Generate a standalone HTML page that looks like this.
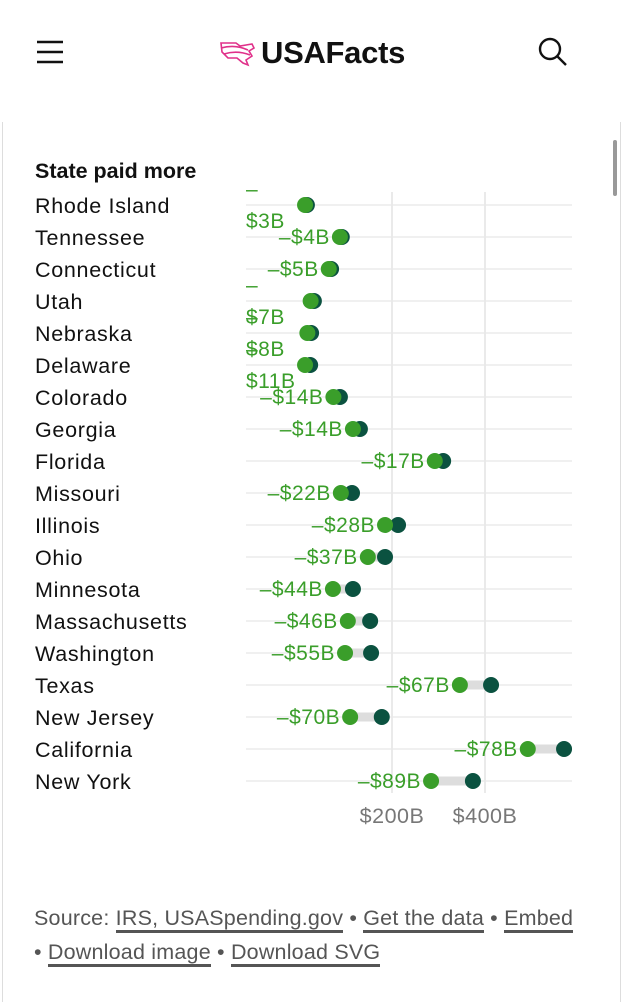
<!DOCTYPE html>
<html><head><meta charset="utf-8">
<style>
html,body{margin:0;padding:0;background:#fff;width:623px;height:1000px;overflow:hidden;font-family:"Liberation Sans",sans-serif;}
.hdr{position:absolute;left:0;top:0;width:623px;height:110px;}
.frame{position:absolute;left:2px;top:122px;width:617px;height:880px;border-left:1px solid #ddd;border-right:1px solid #ddd;}
.sb{position:absolute;left:613px;top:140px;width:4px;height:56px;background:#999;border-radius:2px;}
.foot{position:absolute;left:34px;top:901px;width:585px;font-size:21.5px;line-height:34px;color:#555;letter-spacing:0.2px;}
.foot a{color:#555;text-decoration:none;border-bottom:3px solid #555;}
</style></head><body>
<div class="hdr">
 <svg width="623" height="110">
  <g stroke="#111" stroke-width="2.4">
   <line x1="37" y1="42" x2="63" y2="42"/><line x1="37" y1="52" x2="63" y2="52"/><line x1="37" y1="62" x2="63" y2="62"/>
  </g>
  <g fill="none" stroke="#e0318a" stroke-width="1.6">
   <path d="M221 43 L236 43 L240 46 L252 44 L254 48 L249 51 L252 56 L246 60 L248 65 L243 63 L237 58 L228 58 L222 52 Z"/>
   <path d="M221 48 Q235 44 248 50"/><path d="M224 54 Q237 50 250 55"/>
  </g>
  <text x="261" y="63" font-size="31" font-weight="bold" fill="#111" font-family="Liberation Sans, sans-serif" letter-spacing="-0.3">USAFacts</text>
  <g fill="none" stroke="#111" stroke-width="2.4">
   <circle cx="550" cy="49" r="10"/><line x1="557" y1="56" x2="566" y2="65"/>
  </g>
 </svg>
</div>
<div class="frame"></div>
<div class="sb"></div>
<svg id="chart" width="623" height="1000" style="position:absolute;left:0;top:0"></svg>
<div class="foot">Source: <a href="#">IRS, USASpending.gov</a> • <a href="#">Get the data</a> • <a href="#">Embed</a><br>• <a href="#">Download image</a> • <a href="#">Download SVG</a></div>
<script>
const states=["Rhode Island","Tennessee","Connecticut","Utah","Nebraska","Delaware","Colorado","Georgia","Florida","Missouri","Illinois","Ohio","Minnesota","Massachusetts","Washington","Texas","New Jersey","California","New York"];
const federalValues=[17,92,69,32,26,24,88,131,310,114,213,185,116,153,155,413,178,570,374];
const gapValues=[3,4,5,7,8,11,14,14,17,22,28,37,44,46,55,67,70,78,89];
const adjustedValues=[13,88,64,25,18,13,74,116,292,90,185,148,73,105,99,346,110,492,284];
const tickValues=[200,400];
const tickLabels=["$200B","$400B"];
const svg=document.getElementById('chart');
const NS="http://www.w3.org/2000/svg";
const x=v=>299+v*0.465;
const y=i=>205+i*32;
function mk(t,a){const e=document.createElementNS(NS,t);for(const k in a)e.setAttribute(k,a[k]);svg.appendChild(e);return e;}
let t=mk('text',{x:35,y:178,'font-size':21.5,'font-weight':'bold',fill:'#111'});t.textContent="State paid more";


tickValues.forEach((v,i)=>{
 const l=mk('line',{x1:x(v),x2:x(v),y1:192,y2:793,stroke:'#ddd','stroke-width':1.2});
 
 
 const tx=mk('text',{x:x(v),y:823,'font-size':21.5,fill:'#777','text-anchor':'middle','letter-spacing':0.5});tx.textContent=tickLabels[i];
 
 
});
states.forEach((s,i)=>{
 const yy=y(i);
 const g=mk('line',{x1:246,x2:572,y1:yy,y2:yy,stroke:'#e8e8e8','stroke-width':1.2});
 
 
 const n=mk('text',{x:35,y:yy+8,'font-size':21.5,fill:'#111','letter-spacing':0.7});n.textContent=s;
 
 
 const b=mk('line',{x1:x(adjustedValues[i]),x2:x(federalValues[i]),y1:yy,y2:yy,stroke:'#ddd','stroke-width':9});
 
 
 const d=mk('circle',{cx:x(federalValues[i]),cy:yy,r:8,fill:'#0b5240'});
 
 
 const c=mk('circle',{cx:x(adjustedValues[i]),cy:yy,r:8,fill:'#3a9e2a'});
 
 
 const lab="–$"+gapValues[i]+"B";
 const right=x(adjustedValues[i])-10;
 const estW=lab.length*13;
 if(right-estW<250){
  const a=mk('text',{x:246,y:yy-9,'font-size':21,fill:'#3a9e2a'});a.textContent="–";
  
  
  const bb=mk('text',{x:246,y:yy+23,'font-size':21,fill:'#3a9e2a','letter-spacing':0.5});bb.textContent="$"+gapValues[i]+"B";
  
  
 } else {
  const a=mk('text',{x:right,y:yy+7,'font-size':21,fill:'#3a9e2a','text-anchor':'end','letter-spacing':0.5});a.textContent=lab;
  
  
 }
});
</script>
</body></html>
